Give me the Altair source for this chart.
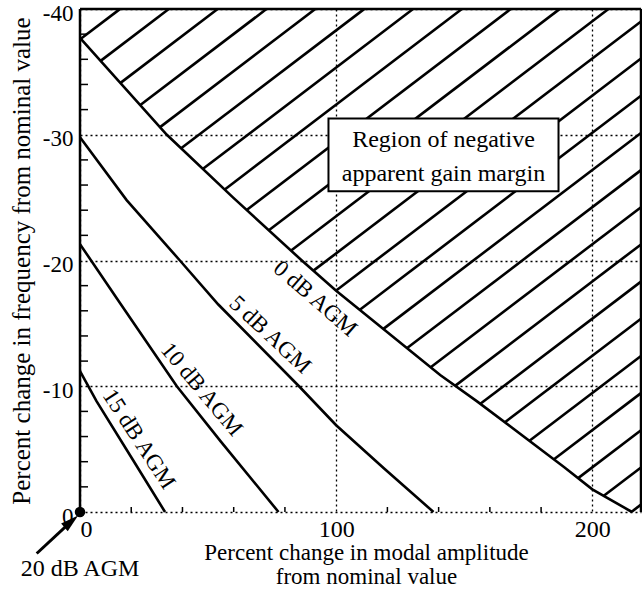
import numpy as np
import pandas as pd
import altair as alt

FONT = "Liberation Serif"
W, H = 561, 503

# ---- curve data ----
agm0_x = [0, 33.9, 59.8, 86.6, 100, 140.6, 155, 188.8, 200, 215.5]
agm0_y = [-37.7, -30, -25, -20, -17.6, -10.9, -8.8, -3.6, -1.8, 0]
agm5_x = [0, 18.2, 39, 54, 85.5, 100, 118.5, 138]
agm5_y = [-29.8, -24.8, -20, -16.5, -10, -6.9, -3.5, 0]
agm10_x = [0, 15, 37.8, 55, 77.5]
agm10_y = [-21.3, -16.8, -10, -5.6, 0]
agm15_x = [0, 6.5, 20.8, 33.2]
agm15_y = [-11.2, -8.8, -4.1, 0]
agm20_x = [0]
agm20_y = [0]

# ---- axis ticks ----
x_major = [0, 100, 200]
x_minor = [20, 40, 60, 80, 120, 140, 160, 180]
y_major = [-40, -30, -20, -10, 0]
y_minor = [-38, -36, -34, -32, -28, -26, -24, -22, -18, -16, -14, -12, -8, -6, -4, -2]

# ---- titles ----
x_title = ["Percent change in modal amplitude", "from nominal value"]
y_title = ["Percent change in frequency from nominal value"]

# ---- annotations ----
label_text = ["0 dB AGM", "5 dB AGM", "10 dB AGM", "15 dB AGM"]
label_x = [91.8, 74.2, 47.5, 23.0]
label_y = [-16.96, -14.1, -9.76, -5.8]
label_angle = [41, 43, 50, 57]

region_text = ["Region of negative", "apparent gain margin"]
region_x = [141.9, 141.9]
region_y = [-29.6, -26.9]
box_x = [97.0]
box_x2 = [186.8]
box_y = [-31.3]
box_y2 = [-25.5]

agm20_label = ["20 dB AGM"]
agm20_label_x = [0.0]
agm20_label_y = [4.5]
arrow_x = [-16.9]
arrow_y = [3.3]
arrow_x2 = [-3.4]
arrow_y2 = [0.75]

# hatch style (spacing along the top edge, slope in data units)
HATCH_START = 15.6
HATCH_STEP = 19.07
HATCH_SLOPE = 0.155
X_MAX = 219

# ---- tables ----
curves = pd.concat([
    pd.DataFrame({"x": agm0_x, "y": agm0_y, "s": "0"}),
    pd.DataFrame({"x": agm5_x, "y": agm5_y, "s": "5"}),
    pd.DataFrame({"x": agm10_x, "y": agm10_y, "s": "10"}),
    pd.DataFrame({"x": agm15_x, "y": agm15_y, "s": "15"}),
])

xf = np.linspace(0, X_MAX, 4000)
cf = np.interp(xf, agm0_x, agm0_y)
segs = []
for n in range(40):
    xt = HATCH_START + n * HATCH_STEP
    vl = -40 + HATCH_SLOPE * (xt - xf)
    m = (vl <= cf) & (vl >= -40)
    if m.any():
        lo = xf[m].min()
        hi = xf[m].max()
        segs.append({"x": lo, "y": -40 + HATCH_SLOPE * (xt - lo),
                     "x2": hi, "y2": -40 + HATCH_SLOPE * (xt - hi)})
hatch = pd.DataFrame(segs)

xs = alt.Scale(domain=[0, X_MAX], nice=False, zero=False)
ys = alt.Scale(domain=[0, -40], nice=False, zero=False)

x_axis = alt.Axis(values=x_major, grid=True, gridDash=[2, 3], gridColor="black",
                  gridWidth=1.3, gridOpacity=1, domain=False, ticks=False,
                  labelFont=FONT, labelFontSize=24, labelColor="black", labelPadding=5,
                  labelExpr="'' + datum.value",
                  labelAlign={"condition": {"test": "datum.value === 0", "value": "left"}, "value": "center"},
                  title=x_title,
                  titleFont=FONT, titleFontSize=23, titleFontWeight="normal", titleColor="black",
                  titleBaseline="alphabetic", titleY=47, titleX=286, titleAlign="center",
                  titleLineHeight=24, titleLimit=2000)
y_axis = alt.Axis(values=y_major, grid=True, gridDash=[2, 3], gridColor="black",
                  gridWidth=1.3, gridOpacity=1, domain=False, ticks=False,
                  labelFont=FONT, labelFontSize=23, labelColor="black", labelPadding=7,
                  labelExpr="'' + datum.value",
                  labelOffset=4, labelBaseline="middle", title=None)

X = alt.X("x:Q", scale=xs, axis=x_axis)
Y = alt.Y("y:Q", scale=ys, axis=y_axis)

curve_layer = alt.Chart(curves).mark_line(color="black", strokeWidth=2.6).encode(
    x=X, y=Y, detail="s:N")

hatch_layer = alt.Chart(hatch).mark_rule(color="black", strokeWidth=2.6).encode(
    x=X, y=Y, x2="x2:Q", y2="y2:Q")

box_layer = alt.Chart(pd.DataFrame({"x": box_x, "x2": box_x2, "y": box_y, "y2": box_y2})).mark_rect(
    fill="white", stroke="black", strokeWidth=2).encode(x=X, x2="x2:Q", y=Y, y2="y2:Q")

region_layer = alt.Chart(pd.DataFrame({"x": region_x, "y": region_y, "t": region_text})).mark_text(
    font=FONT, fontSize=24, color="black", align="center", baseline="middle").encode(
    x=X, y=Y, text="t:N")

labels_layer = alt.Chart(pd.DataFrame({"x": label_x, "y": label_y, "t": label_text, "a": label_angle})).mark_text(
    font=FONT, fontSize=23, color="black", align="center", baseline="middle").encode(
    x=X, y=Y, text="t:N", angle=alt.Angle("a:Q", scale=None))

ytitle_layer = alt.Chart(pd.DataFrame({"t": y_title})).mark_text(
    font=FONT, fontSize=25, color="black", align="center", baseline="alphabetic", angle=270,
    lineBreak="\n", limit=0).encode(
    x=alt.value(-50), y=alt.value(252), text="t:N")

one = pd.DataFrame({"k": [0]})
frame_left = alt.Chart(one).mark_rule(color="black", strokeWidth=2.5).encode(
    x=alt.value(0), y=alt.value(0), y2=alt.value(H))
frame_top = alt.Chart(one).mark_rule(color="black", strokeWidth=2.5).encode(
    x=alt.value(0), x2=alt.value(W), y=alt.value(0))
frame_right = alt.Chart(one).mark_rule(color="black", strokeWidth=2.5).encode(
    x=alt.value(W), y=alt.value(0), y2=alt.value(H))

yt_layer = alt.Chart(pd.DataFrame({"y": y_minor})).mark_rule(color="black", strokeWidth=1.5).encode(
    y=Y, x=alt.value(0), x2=alt.value(8))
xt_layer = alt.Chart(pd.DataFrame({"x": x_minor})).mark_rule(color="black", strokeWidth=1.5).encode(
    x=X, y=alt.value(H), y2=alt.value(H - 5))

point_layer = alt.Chart(pd.DataFrame({"x": agm20_x, "y": agm20_y})).mark_point(
    filled=True, color="black", size=110, opacity=1, shape="circle").encode(x=X, y=Y)

arrow_line = alt.Chart(pd.DataFrame({"x": arrow_x, "y": arrow_y, "x2": arrow_x2, "y2": arrow_y2})).mark_rule(
    color="black", strokeWidth=3).encode(x=X, y=Y, x2="x2:Q", y2="y2:Q")
arrow_head = alt.Chart(pd.DataFrame({"x": arrow_x2, "y": arrow_y2})).mark_point(
    filled=True, color="black", opacity=1, size=330, angle=49,
    shape="M0,-1L0.55,1L-0.55,1Z").encode(x=X, y=Y)

agm20_text = alt.Chart(pd.DataFrame({"x": agm20_label_x, "y": agm20_label_y, "t": agm20_label})).mark_text(
    font=FONT, fontSize=24, color="black", align="center", baseline="middle").encode(
    x=X, y=Y, text="t:N")

chart = alt.layer(
    hatch_layer, box_layer, region_layer, curve_layer, labels_layer, ytitle_layer,
    frame_left, frame_top, frame_right, yt_layer, xt_layer,
    arrow_line, arrow_head, point_layer, agm20_text
).properties(
    width=W, height=H,
    autosize=alt.AutoSizeParams(type="none"),
    padding={"left": 80, "top": 9, "right": 1, "bottom": 82},
    background="white",
).configure_view(stroke=None)

chart.save("out.html", embed_options={"renderer": "svg", "actions": False})
